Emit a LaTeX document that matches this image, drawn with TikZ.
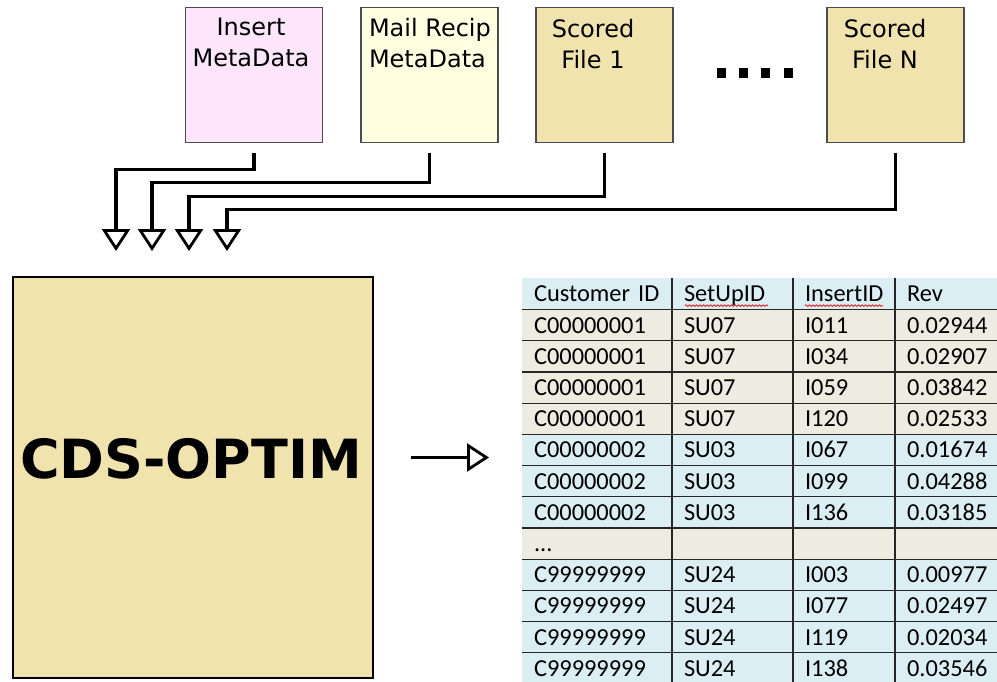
\documentclass[tikz,border=0pt]{standalone}
\usepackage{fontspec}
\setmainfont{DejaVu Sans}
\newfontfamily\tblfont{Carlito}
\usepackage{tikz}
\usetikzlibrary{arrows.meta}
\usetikzlibrary{matrix}
\usetikzlibrary{decorations.pathmorphing}

\definecolor{insertpink}{RGB}{253,230,252}
\definecolor{reciplemon}{RGB}{255,255,225}
\definecolor{scoredtan}{RGB}{240,227,173}
\definecolor{hdrblue}{RGB}{219,238,243}
\definecolor{rowbeige}{RGB}{238,236,225}

\begin{document}
\begin{tikzpicture}[x=1pt, y=-1pt,
    every node/.style={inner sep=0pt, outer sep=0pt},
    srcbox/.style={draw=black!70, line width=1.8pt, minimum width=137pt, minimum height=135pt},
    srctext/.style={anchor=north, align=center, font=\fontsize{24}{31}\selectfont},
    feed/.style={line width=3.4pt, -{Triangle[open, length=22pt, width=28pt, line width=2.8pt]}},
    cell/.style={font=\tblfont\fontsize{24.4}{28}\selectfont, text height=15.7pt, text depth=0pt,
                 minimum height=31.2pt, align=left, inner xsep=12pt},
    grid/.style={black!85, line width=1.3pt},
    spell/.style={red!85!black, line width=0.7pt, decorate, decoration={snake, amplitude=0.8pt, segment length=3.5pt}}]

\useasboundingbox (0,0) rectangle (997,681);

% --- TOP ROW: INPUT FILES ---
\node[srcbox, fill=insertpink] (insert) at (254,75) {};
\node[srctext] at (251,18) {Insert\\MetaData};

\node[srcbox, fill=reciplemon] (recip) at (429.5,75) {};
\node[srctext, anchor=north west, align=left] at (369,18) {Mail Recip\\MetaData};

\node[srcbox, fill=scoredtan] (file1) at (604.5,75) {};
\node[srctext] at (593,19) {Scored\\File 1};

% dots between the scored files
\foreach \dx in {717,739,761,784}
    \fill[black] (\dx,68) rectangle ++(9,10);

\node[srcbox, fill=scoredtan] (fileN) at (895.5,75) {};
\node[srctext] at (885,19) {Scored\\File N};

% --- FEEDS INTO THE OPTIMISER ---
\coordinate (in1) at (116,251);
\coordinate (in2) at (152,251);
\coordinate (in3) at (189,251);
\coordinate (in4) at (227,251);

\draw[feed, shorten <=10pt] (insert.south) -- ++(0,27) -| (in1);
\draw[feed, shorten <=10pt] (recip.south) -- ++(0,40) -| (in2);
\draw[feed, shorten <=10pt] (file1.south) -- ++(0,54) -| (in3);
\draw[feed, shorten <=10pt] (fileN.south) -- ++(0,67) -| (in4);

% --- OPTIMISER ---
\node[draw=black, line width=2pt, fill=scoredtan, minimum width=360pt, minimum height=401pt]
    (optim) at (193,477.5) {};
\node[anchor=base, font=\fontsize{54}{60}\selectfont\bfseries] (optimlabel) at (191,478) {CDS-OPTIM};

\coordinate (outtip) at (489,457.5);
\draw[feed, line width=3pt] ([xshift=38pt, yshift=20pt]optim.east) -- (outtip);

% --- RESULT TABLE ---
\matrix (tbl) [matrix of nodes, nodes in empty cells, anchor=north west, inner sep=0pt,
    row sep=0pt, column sep=0pt,
    nodes={cell, fill=hdrblue},
    column 1/.style={nodes={text width=126pt}},
    column 2/.style={nodes={text width=97pt}},
    column 3/.style={nodes={text width=78pt}},
    column 4/.style={nodes={text width=78pt}},
    row 2/.style={nodes={fill=rowbeige}},
    row 3/.style={nodes={fill=rowbeige}},
    row 4/.style={nodes={fill=rowbeige}},
    row 5/.style={nodes={fill=rowbeige}},
    row 9/.style={nodes={fill=rowbeige}}] at (522,278.4) {
    Customer ID & SetUpID & InsertID & Rev \\
    C00000001 & SU07 & I011 & 0.02944 \\
    C00000001 & SU07 & I034 & 0.02907 \\
    C00000001 & SU07 & I059 & 0.03842 \\
    C00000001 & SU07 & I120 & 0.02533 \\
    C00000002 & SU03 & I067 & 0.01674 \\
    C00000002 & SU03 & I099 & 0.04288 \\
    C00000002 & SU03 & I136 & 0.03185 \\
    ... & & & \\
    C99999999 & SU24 & I003 & 0.00977 \\
    C99999999 & SU24 & I077 & 0.02497 \\
    C99999999 & SU24 & I119 & 0.02034 \\
    C99999999 & SU24 & I138 & 0.03546 \\
};

% grid lines
\foreach \r in {1,...,12}
    \draw[grid] (tbl-\r-1.south west) -- (tbl-\r-4.south east);
\foreach \c in {1,2,3}
    \draw[grid] (tbl-1-\c.north east) -- (tbl-13-\c.south east);

% spell-check marks under the header
\draw[spell] ([xshift=13pt, yshift=4pt]tbl-1-2.south west) -- ++(83,0);
\draw[spell] ([xshift=12pt, yshift=4pt]tbl-1-3.south west) -- ++(78,0);

\end{tikzpicture}
\end{document}
